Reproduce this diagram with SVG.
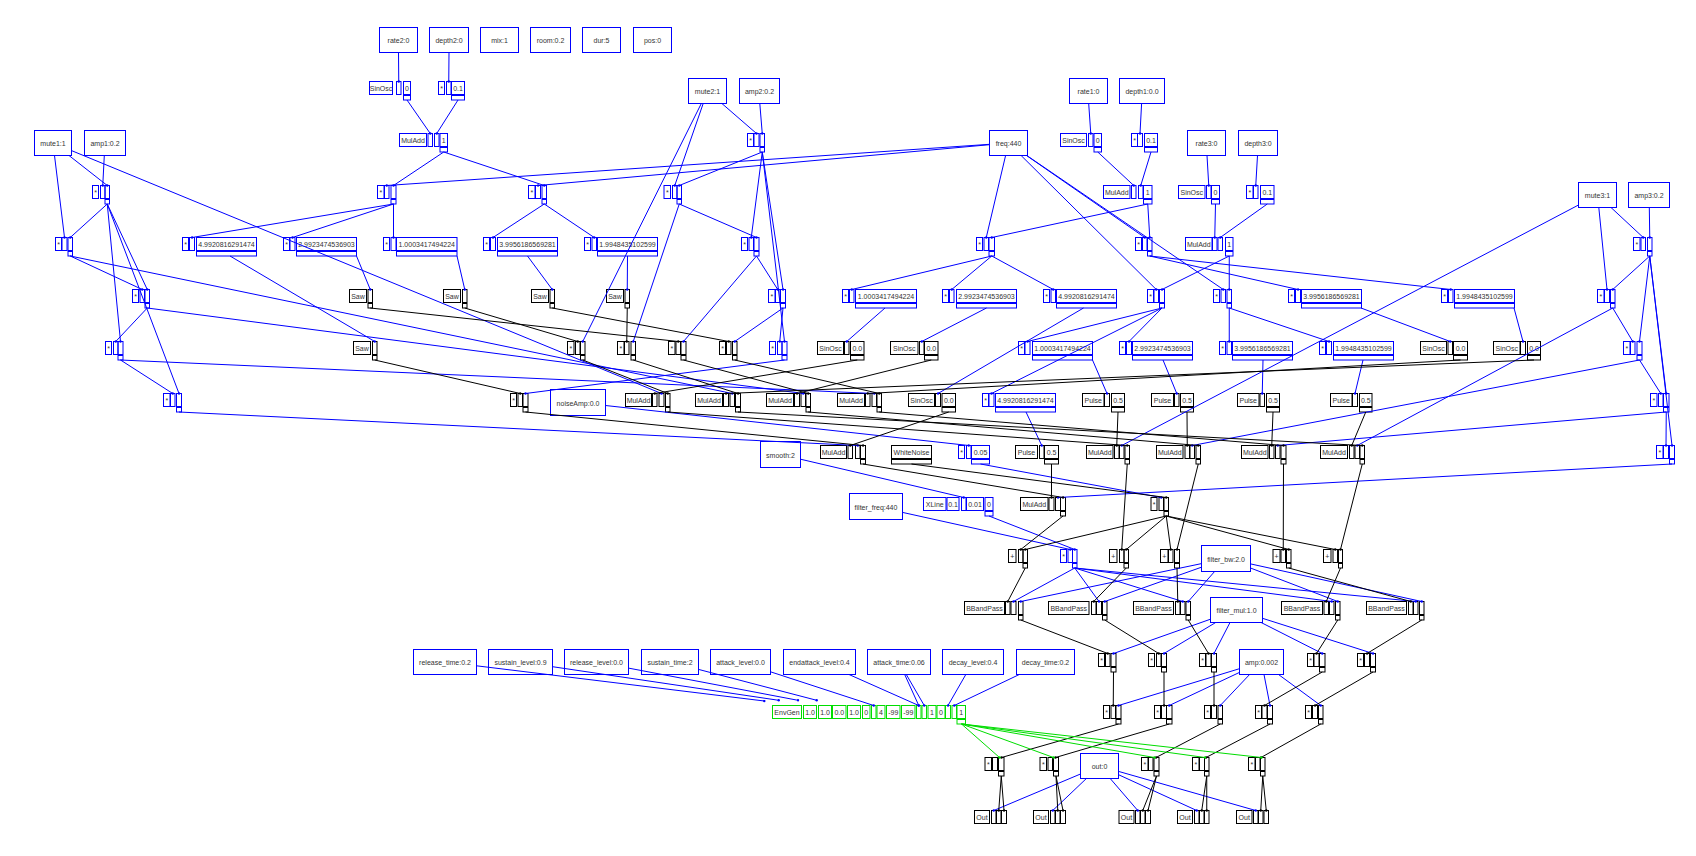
<svg xmlns="http://www.w3.org/2000/svg" width="1696" height="856" viewBox="0 0 1696 856">
<style>
rect{fill:none;stroke-width:1}
.b rect{stroke:#0000ff}
.k rect{stroke:#000}
.g rect{stroke:#00dd00}
text{font-family:"Liberation Sans",Arial,sans-serif;font-size:7px;fill:#333;text-anchor:middle}
#connectors path{fill:none;stroke-width:1}
.eb path{stroke:#0000ff;marker-end:url(#mb)}
.ek path{stroke:#000;marker-end:url(#mk)}
.eg path{stroke:#00dd00;marker-end:url(#mg)}
</style>
<defs>
<marker id="mb" markerWidth="3" markerHeight="3" refX="1.5" refY="1.5" markerUnits="userSpaceOnUse"><circle cx="1.5" cy="1.5" r="1.2" fill="#0000ff"/></marker>
<marker id="mk" markerWidth="3" markerHeight="3" refX="1.5" refY="1.5" markerUnits="userSpaceOnUse"><circle cx="1.5" cy="1.5" r="1.2" fill="#000"/></marker>
<marker id="mg" markerWidth="3" markerHeight="3" refX="1.5" refY="1.5" markerUnits="userSpaceOnUse"><circle cx="1.5" cy="1.5" r="1.2" fill="#00dd00"/></marker>
</defs>
<rect x="0" y="0" width="1696" height="856" style="fill:#fff;stroke:none"/>

<g id="controls">
<g id="rate2" class="b"><rect x="379.5" y="27.5" width="38" height="25"/><text x="398.5" y="43">rate2:0</text></g>
<g id="depth2" class="b"><rect x="429.5" y="27.5" width="39" height="25"/><text x="449" y="43">depth2:0</text></g>
<g id="mix" class="b"><rect x="480.5" y="27.5" width="38" height="25"/><text x="499.5" y="43">mix:1</text></g>
<g id="room" class="b"><rect x="530.5" y="27.5" width="40" height="25"/><text x="550.5" y="43">room:0.2</text></g>
<g id="dur" class="b"><rect x="582.5" y="27.5" width="38" height="25"/><text x="601.5" y="43">dur:5</text></g>
<g id="pos" class="b"><rect x="633.5" y="27.5" width="38" height="25"/><text x="652.5" y="43">pos:0</text></g>
<g id="mute2" class="b"><rect x="688.5" y="78.5" width="38" height="25"/><text x="707.5" y="94">mute2:1</text></g>
<g id="amp2" class="b"><rect x="739.5" y="78.5" width="40" height="25"/><text x="759.5" y="94">amp2:0.2</text></g>
<g id="rate1" class="b"><rect x="1069.5" y="78.5" width="38" height="25"/><text x="1088.5" y="94">rate1:0</text></g>
<g id="depth1" class="b"><rect x="1119.5" y="78.5" width="45" height="25"/><text x="1142" y="94">depth1:0.0</text></g>
<g id="mute1" class="b"><rect x="34.5" y="130.5" width="37" height="25"/><text x="53" y="146">mute1:1</text></g>
<g id="amp1" class="b"><rect x="84.5" y="130.5" width="41" height="25"/><text x="105" y="146">amp1:0.2</text></g>
<g id="freq" class="b"><rect x="989.5" y="130.5" width="38" height="25"/><text x="1008.5" y="146">freq:440</text></g>
<g id="rate3" class="b"><rect x="1187.5" y="130.5" width="38" height="25"/><text x="1206.5" y="146">rate3:0</text></g>
<g id="depth3" class="b"><rect x="1238.5" y="130.5" width="39" height="25"/><text x="1258" y="146">depth3:0</text></g>
<g id="mute3" class="b"><rect x="1578.5" y="182.5" width="38" height="25"/><text x="1597.5" y="198">mute3:1</text></g>
<g id="amp3" class="b"><rect x="1628.5" y="182.5" width="41" height="25"/><text x="1649" y="198">amp3:0.2</text></g>
<g id="noiseAmp" class="b"><rect x="550.5" y="389.5" width="55" height="26"/><text x="578" y="405.5">noiseAmp:0.0</text></g>
<g id="smooth" class="b"><rect x="760.5" y="441.5" width="40" height="26"/><text x="780.5" y="457.5">smooth:2</text></g>
<g id="filter_freq" class="b"><rect x="849.5" y="493.5" width="53" height="26"/><text x="876" y="509.5">filter_freq:440</text></g>
<g id="filter_bw" class="b"><rect x="1201.5" y="545.5" width="49" height="26"/><text x="1226" y="561.5">filter_bw:2.0</text></g>
<g id="filter_mul" class="b"><rect x="1210.5" y="597.5" width="52" height="25"/><text x="1236.5" y="613">filter_mul:1.0</text></g>
<g id="amp" class="b"><rect x="1239.5" y="649.5" width="44" height="25"/><text x="1261.5" y="665">amp:0.002</text></g>
<g id="release_time" class="b"><rect x="413.5" y="649.5" width="63" height="25"/><text x="445" y="665">release_time:0.2</text></g>
<g id="sustain_level" class="b"><rect x="488.5" y="649.5" width="64" height="25"/><text x="520.5" y="665">sustain_level:0.9</text></g>
<g id="release_level" class="b"><rect x="564.5" y="649.5" width="64" height="25"/><text x="596.5" y="665">release_level:0.0</text></g>
<g id="sustain_time" class="b"><rect x="641.5" y="649.5" width="57" height="25"/><text x="670" y="665">sustain_time:2</text></g>
<g id="attack_level" class="b"><rect x="710.5" y="649.5" width="60" height="25"/><text x="740.5" y="665">attack_level:0.0</text></g>
<g id="endattack_level" class="b"><rect x="783.5" y="649.5" width="72" height="25"/><text x="819.5" y="665">endattack_level:0.4</text></g>
<g id="attack_time" class="b"><rect x="867.5" y="649.5" width="63" height="25"/><text x="899" y="665">attack_time:0.06</text></g>
<g id="decay_level" class="b"><rect x="942.5" y="649.5" width="61" height="25"/><text x="973" y="665">decay_level:0.4</text></g>
<g id="decay_time" class="b"><rect x="1016.5" y="649.5" width="58" height="25"/><text x="1045.5" y="665">decay_time:0.2</text></g>
<g id="out" class="b"><rect x="1080.5" y="753.5" width="38" height="25"/><text x="1099.5" y="769">out:0</text></g>
</g>

<g id="ugens">
<!-- row 1 -->
<g id="sinA" class="b"><rect x="369.5" y="81.5" width="23" height="13"/><text x="381" y="90.5">SinOsc</text><rect x="396.5" y="81.5" width="4.5" height="13"/><rect x="403.5" y="81.5" width="7" height="13"/><text x="407" y="90.5">0</text><rect x="403.5" y="95.5" width="7" height="4.5"/></g>
<g id="mulA" class="b"><rect x="438.5" y="81.5" width="6" height="13"/><text x="441.5" y="90.5">*</text><rect x="446.5" y="81.5" width="4.5" height="13"/><rect x="451.5" y="81.5" width="13" height="13"/><text x="458" y="90.5">0.1</text><rect x="451.5" y="95.5" width="13" height="4.5"/></g>
<!-- row 2 -->
<g id="maA" class="b"><rect x="399.5" y="133.5" width="27" height="13"/><text x="413" y="142.5">MulAdd</text><rect x="428" y="133.5" width="4.5" height="13"/><rect x="434.5" y="133.5" width="4.5" height="13"/><rect x="440" y="133.5" width="7.5" height="13"/><text x="443.75" y="142.5">1</text><rect x="440" y="147.5" width="7.5" height="4.5"/></g>
<g id="mulB" class="b"><rect x="747.5" y="133.5" width="6" height="13"/><text x="750.5" y="142.5">*</text><rect x="754" y="133.5" width="5" height="13"/><rect x="760" y="133.5" width="4.5" height="13"/><rect x="760" y="147.5" width="4.5" height="4.5"/></g>
<g id="sinB" class="b"><rect x="1060.5" y="133.5" width="26" height="13"/><text x="1073.5" y="142.5">SinOsc</text><rect x="1088.5" y="133.5" width="4.5" height="13"/><rect x="1094" y="133.5" width="7.5" height="13"/><text x="1097.75" y="142.5">0</text><rect x="1094" y="147.5" width="7.5" height="4.5"/></g>
<g id="mulC" class="b"><rect x="1131.5" y="133.5" width="6" height="13"/><text x="1134.5" y="142.5">*</text><rect x="1137.5" y="133.5" width="5" height="13"/><rect x="1144.5" y="133.5" width="13" height="13"/><text x="1151" y="142.5">0.1</text><rect x="1144.5" y="147.5" width="13" height="4.5"/></g>
<!-- row 3 -->
<g id="mul92" class="b"><rect x="92.5" y="185.5" width="6" height="13"/><text x="95.5" y="194.5">*</text><rect x="100.5" y="185.5" width="4.5" height="13"/><rect x="105" y="185.5" width="4.5" height="13"/><rect x="105" y="199.5" width="4.5" height="4.5"/></g>
<g id="mul377" class="b"><rect x="377.5" y="185.5" width="6.5" height="13"/><text x="380.75" y="194.5">*</text><rect x="384.5" y="185.5" width="4.5" height="13"/><rect x="391" y="185.5" width="5" height="13"/><rect x="391" y="199.5" width="5" height="4.5"/></g>
<g id="mul528" class="b"><rect x="528.5" y="185.5" width="6.5" height="13"/><text x="531.75" y="194.5">*</text><rect x="535.5" y="185.5" width="5" height="13"/><rect x="542" y="185.5" width="4.5" height="13"/><rect x="542" y="199.5" width="4.5" height="4.5"/></g>
<g id="mul664" class="b"><rect x="664" y="185.5" width="6.5" height="13"/><text x="667.25" y="194.5">*</text><rect x="672.5" y="185.5" width="4.5" height="13"/><rect x="677" y="185.5" width="4.5" height="13"/><rect x="677" y="199.5" width="4.5" height="4.5"/></g>
<g id="maB" class="b"><rect x="1103.5" y="185.5" width="26.5" height="13"/><text x="1116.75" y="194.5">MulAdd</text><rect x="1131.5" y="185.5" width="4.5" height="13"/><rect x="1138.5" y="185.5" width="4.5" height="13"/><rect x="1143.5" y="185.5" width="8.5" height="13"/><text x="1147.75" y="194.5">1</text><rect x="1143.5" y="199.5" width="8.5" height="4.5"/></g>
<g id="sinC" class="b"><rect x="1178.5" y="185.5" width="26.5" height="13"/><text x="1191.75" y="194.5">SinOsc</text><rect x="1206.5" y="185.5" width="4.5" height="13"/><rect x="1211.5" y="185.5" width="8" height="13"/><text x="1215.5" y="194.5">0</text><rect x="1211.5" y="199.5" width="8" height="4.5"/></g>
<g id="mulD" class="b"><rect x="1246.5" y="185.5" width="6.5" height="13"/><text x="1249.75" y="194.5">*</text><rect x="1253.5" y="185.5" width="4.5" height="13"/><rect x="1260.5" y="185.5" width="13.5" height="13"/><text x="1267.25" y="194.5">0.1</text><rect x="1260.5" y="199.5" width="13.5" height="4.5"/></g>
<!-- row 4 -->
<g id="mul55" class="b"><rect x="55.5" y="237.5" width="6" height="13"/><text x="58.5" y="246.5">*</text><rect x="62" y="237.5" width="5" height="13"/><rect x="68" y="237.5" width="4.5" height="13"/><rect x="68" y="251.5" width="4.5" height="4.5"/></g>
<g id="k4992a" class="b"><rect x="182.5" y="237.5" width="6" height="13"/><text x="185.5" y="246.5">*</text><rect x="189.5" y="237.5" width="5" height="13"/><rect x="196.5" y="237.5" width="60" height="13"/><text x="226.5" y="246.5">4.9920816291474</text><rect x="196.5" y="251.5" width="60" height="4.5"/></g>
<g id="k2992a" class="b"><rect x="283.5" y="237.5" width="6" height="13"/><text x="286.5" y="246.5">*</text><rect x="290" y="237.5" width="5" height="13"/><rect x="296.5" y="237.5" width="60" height="13"/><text x="326.5" y="246.5">2.9923474536903</text><rect x="296.5" y="251.5" width="60" height="4.5"/></g>
<g id="k1000a" class="b"><rect x="383.5" y="237.5" width="6" height="13"/><text x="386.5" y="246.5">*</text><rect x="391" y="237.5" width="5" height="13"/><rect x="396.5" y="237.5" width="60.5" height="13"/><text x="426.75" y="246.5">1.0003417494224</text><rect x="396.5" y="251.5" width="60.5" height="4.5"/></g>
<g id="k3995a" class="b"><rect x="483.5" y="237.5" width="6" height="13"/><text x="486.5" y="246.5">*</text><rect x="490.5" y="237.5" width="5" height="13"/><rect x="497.5" y="237.5" width="60" height="13"/><text x="527.5" y="246.5">3.9956186569281</text><rect x="497.5" y="251.5" width="60" height="4.5"/></g>
<g id="k1994a" class="b"><rect x="584.5" y="237.5" width="6" height="13"/><text x="587.5" y="246.5">*</text><rect x="592" y="237.5" width="4.5" height="13"/><rect x="597.5" y="237.5" width="60" height="13"/><text x="627.5" y="246.5">1.9948435102599</text><rect x="597.5" y="251.5" width="60" height="4.5"/></g>
<g id="mul741" class="b"><rect x="741.5" y="237.5" width="6" height="13"/><text x="744.5" y="246.5">*</text><rect x="749" y="237.5" width="4.5" height="13"/><rect x="754" y="237.5" width="5" height="13"/><rect x="754" y="251.5" width="5" height="4.5"/></g>
<g id="mul976" class="b"><rect x="976.5" y="237.5" width="6" height="13"/><text x="979.5" y="246.5">*</text><rect x="984" y="237.5" width="4.5" height="13"/><rect x="989" y="237.5" width="5.5" height="13"/><rect x="989" y="251.5" width="5.5" height="4.5"/></g>
<g id="mul1135" class="b"><rect x="1135.5" y="237.5" width="6" height="13"/><text x="1138.5" y="246.5">*</text><rect x="1142.5" y="237.5" width="4.5" height="13"/><rect x="1147.5" y="237.5" width="4.5" height="13"/><rect x="1147.5" y="251.5" width="4.5" height="4.5"/></g>
<g id="maC" class="b"><rect x="1185.5" y="237.5" width="26.5" height="13"/><text x="1198.75" y="246.5">MulAdd</text><rect x="1212.5" y="237.5" width="4.5" height="13"/><rect x="1218" y="237.5" width="4.5" height="13"/><rect x="1225.5" y="237.5" width="7.5" height="13"/><text x="1229.25" y="246.5">1</text><rect x="1225.5" y="251.5" width="7.5" height="4.5"/></g>
<g id="mul1633" class="b"><rect x="1633.5" y="237.5" width="6.5" height="13"/><text x="1636.75" y="246.5">*</text><rect x="1641" y="237.5" width="4.5" height="13"/><rect x="1647.5" y="237.5" width="4.5" height="13"/><rect x="1647.5" y="251.5" width="4.5" height="4.5"/></g>
<!-- row 5 -->
<g id="mul132" class="b"><rect x="132.5" y="289.5" width="6" height="13"/><text x="135.5" y="298.5">*</text><rect x="140" y="289.5" width="4.5" height="13"/><rect x="145" y="289.5" width="4.5" height="13"/><rect x="145" y="303.5" width="4.5" height="4.5"/></g>
<g id="saw1" class="k"><rect x="349.5" y="289.5" width="17" height="13"/><text x="358" y="298.5">Saw</text><rect x="368" y="289.5" width="4.5" height="13"/><rect x="368" y="303.5" width="4.5" height="4.5"/></g>
<g id="saw2" class="k"><rect x="443.5" y="289.5" width="17" height="13"/><text x="452" y="298.5">Saw</text><rect x="462.5" y="289.5" width="4.5" height="13"/><rect x="462.5" y="303.5" width="4.5" height="4.5"/></g>
<g id="saw3" class="k"><rect x="531.5" y="289.5" width="17" height="13"/><text x="540" y="298.5">Saw</text><rect x="550" y="289.5" width="4.5" height="13"/><rect x="550" y="303.5" width="4.5" height="4.5"/></g>
<g id="saw4" class="k"><rect x="606.5" y="289.5" width="17" height="13"/><text x="615" y="298.5">Saw</text><rect x="625" y="289.5" width="4.5" height="13"/><rect x="625" y="303.5" width="4.5" height="4.5"/></g>
<g id="mul768" class="b"><rect x="768.5" y="289.5" width="6.5" height="13"/><text x="771.75" y="298.5">*</text><rect x="775.5" y="289.5" width="4.5" height="13"/><rect x="780.5" y="289.5" width="5" height="13"/><rect x="780.5" y="303.5" width="5" height="4.5"/></g>
<g id="k1000b" class="b"><rect x="842.5" y="289.5" width="6" height="13"/><text x="845.5" y="298.5">*</text><rect x="849.5" y="289.5" width="4.5" height="13"/><rect x="855.5" y="289.5" width="61" height="13"/><text x="886" y="298.5">1.0003417494224</text><rect x="855.5" y="303.5" width="61" height="4.5"/></g>
<g id="k2992b" class="b"><rect x="942.5" y="289.5" width="6" height="13"/><text x="945.5" y="298.5">*</text><rect x="949.5" y="289.5" width="4.5" height="13"/><rect x="956.5" y="289.5" width="60" height="13"/><text x="986.5" y="298.5">2.9923474536903</text><rect x="956.5" y="303.5" width="60" height="4.5"/></g>
<g id="k4992b" class="b"><rect x="1043.5" y="289.5" width="6" height="13"/><text x="1046.5" y="298.5">*</text><rect x="1051" y="289.5" width="4.5" height="13"/><rect x="1056.5" y="289.5" width="60" height="13"/><text x="1086.5" y="298.5">4.9920816291474</text><rect x="1056.5" y="303.5" width="60" height="4.5"/></g>
<g id="mul1147" class="b"><rect x="1147.5" y="289.5" width="6" height="13"/><text x="1150.5" y="298.5">*</text><rect x="1154" y="289.5" width="4.5" height="13"/><rect x="1159.5" y="289.5" width="5" height="13"/><rect x="1159.5" y="303.5" width="5" height="4.5"/></g>
<g id="mul1213" class="b"><rect x="1213.5" y="289.5" width="6" height="13"/><text x="1216.5" y="298.5">*</text><rect x="1221" y="289.5" width="4.5" height="13"/><rect x="1227" y="289.5" width="4.5" height="13"/><rect x="1227" y="303.5" width="4.5" height="4.5"/></g>
<g id="k3995b" class="b"><rect x="1288.5" y="289.5" width="6" height="13"/><text x="1291.5" y="298.5">*</text><rect x="1295.5" y="289.5" width="5" height="13"/><rect x="1301.5" y="289.5" width="60" height="13"/><text x="1331.5" y="298.5">3.9956186569281</text><rect x="1301.5" y="303.5" width="60" height="4.5"/></g>
<g id="k1994b" class="b"><rect x="1441.5" y="289.5" width="6" height="13"/><text x="1444.5" y="298.5">*</text><rect x="1448.5" y="289.5" width="4.5" height="13"/><rect x="1454.5" y="289.5" width="60" height="13"/><text x="1484.5" y="298.5">1.9948435102599</text><rect x="1454.5" y="303.5" width="60" height="4.5"/></g>
<g id="mul1597" class="b"><rect x="1597.5" y="289.5" width="6.5" height="13"/><text x="1600.75" y="298.5">*</text><rect x="1604.5" y="289.5" width="5" height="13"/><rect x="1610.5" y="289.5" width="4.5" height="13"/><rect x="1610.5" y="303.5" width="4.5" height="4.5"/></g>
<!-- row 6 -->
<g id="mul105" class="b"><rect x="105.5" y="341.5" width="6" height="13"/><text x="108.5" y="350.5">*</text><rect x="113.5" y="341.5" width="4.5" height="13"/><rect x="118" y="341.5" width="5" height="13"/><rect x="118" y="355.5" width="5" height="4.5"/></g>
<g id="saw5" class="k"><rect x="353.5" y="341.5" width="17" height="13"/><text x="362" y="350.5">Saw</text><rect x="372.5" y="341.5" width="4.5" height="13"/><rect x="372.5" y="355.5" width="4.5" height="4.5"/></g>
<g id="mul567" class="k"><rect x="567.5" y="341.5" width="6.5" height="13"/><text x="570.75" y="350.5">*</text><rect x="575.5" y="341.5" width="4.5" height="13"/><rect x="580.5" y="341.5" width="4.5" height="13"/><rect x="580.5" y="355.5" width="4.5" height="4.5"/></g>
<g id="mul617" class="k"><rect x="617.5" y="341.5" width="6.5" height="13"/><text x="620.75" y="350.5">*</text><rect x="624.5" y="341.5" width="4.5" height="13"/><rect x="631" y="341.5" width="4.5" height="13"/><rect x="631" y="355.5" width="4.5" height="4.5"/></g>
<g id="mul668" class="k"><rect x="668.5" y="341.5" width="6.5" height="13"/><text x="671.75" y="350.5">*</text><rect x="676" y="341.5" width="4.5" height="13"/><rect x="681" y="341.5" width="5" height="13"/><rect x="681" y="355.5" width="5" height="4.5"/></g>
<g id="mul719" class="k"><rect x="719.5" y="341.5" width="6" height="13"/><text x="722.5" y="350.5">*</text><rect x="726.5" y="341.5" width="4.5" height="13"/><rect x="732.5" y="341.5" width="4.5" height="13"/><rect x="732.5" y="355.5" width="4.5" height="4.5"/></g>
<g id="mul769" class="b"><rect x="769.5" y="341.5" width="6" height="13"/><text x="772.5" y="350.5">*</text><rect x="777.5" y="341.5" width="4.5" height="13"/><rect x="782" y="341.5" width="5" height="13"/><rect x="782" y="355.5" width="5" height="4.5"/></g>
<g id="sin1" class="k"><rect x="817.5" y="341.5" width="26" height="13"/><text x="830.5" y="350.5">SinOsc</text><rect x="844.5" y="341.5" width="4.5" height="13"/><rect x="850.5" y="341.5" width="13.5" height="13"/><text x="857.25" y="350.5">0.0</text><rect x="850.5" y="355.5" width="13.5" height="4.5"/></g>
<g id="sin2" class="k"><rect x="890.5" y="341.5" width="27.5" height="13"/><text x="904.25" y="350.5">SinOsc</text><rect x="919.5" y="341.5" width="4.5" height="13"/><rect x="924.5" y="341.5" width="13.5" height="13"/><text x="931.25" y="350.5">0.0</text><rect x="924.5" y="355.5" width="13.5" height="4.5"/></g>
<g id="k1000c" class="b"><rect x="1018.5" y="341.5" width="6" height="13"/><text x="1021.5" y="350.5">*</text><rect x="1025" y="341.5" width="5" height="13"/><rect x="1032.5" y="341.5" width="60" height="13"/><text x="1062.5" y="350.5">1.0003417494224</text><rect x="1032.5" y="355.5" width="60" height="4.5"/></g>
<g id="k2992c" class="b"><rect x="1119.5" y="341.5" width="6" height="13"/><text x="1122.5" y="350.5">*</text><rect x="1126.5" y="341.5" width="5" height="13"/><rect x="1132.5" y="341.5" width="60" height="13"/><text x="1162.5" y="350.5">2.9923474536903</text><rect x="1132.5" y="355.5" width="60" height="4.5"/></g>
<g id="k3995c" class="b"><rect x="1219.5" y="341.5" width="6" height="13"/><text x="1222.5" y="350.5">*</text><rect x="1227" y="341.5" width="4.5" height="13"/><rect x="1232.5" y="341.5" width="60" height="13"/><text x="1262.5" y="350.5">3.9956186569281</text><rect x="1232.5" y="355.5" width="60" height="4.5"/></g>
<g id="k1994c" class="b"><rect x="1319.5" y="341.5" width="6" height="13"/><text x="1322.5" y="350.5">*</text><rect x="1326.5" y="341.5" width="5" height="13"/><rect x="1333.5" y="341.5" width="60" height="13"/><text x="1363.5" y="350.5">1.9948435102599</text><rect x="1333.5" y="355.5" width="60" height="4.5"/></g>
<g id="sin3" class="k"><rect x="1420.5" y="341.5" width="26" height="13"/><text x="1433.5" y="350.5">SinOsc</text><rect x="1448" y="341.5" width="4.5" height="13"/><rect x="1453.5" y="341.5" width="14" height="13"/><text x="1460.5" y="350.5">0.0</text><rect x="1453.5" y="355.5" width="14" height="4.5"/></g>
<g id="sin4" class="k"><rect x="1493.5" y="341.5" width="26.5" height="13"/><text x="1506.75" y="350.5">SinOsc</text><rect x="1520.5" y="341.5" width="5" height="13"/><rect x="1527.5" y="341.5" width="13" height="13"/><text x="1534" y="350.5">0.0</text><rect x="1527.5" y="355.5" width="13" height="4.5"/></g>
<g id="mul1623" class="b"><rect x="1623.5" y="341.5" width="6.5" height="13"/><text x="1626.75" y="350.5">*</text><rect x="1630.5" y="341.5" width="4.5" height="13"/><rect x="1637" y="341.5" width="5" height="13"/><rect x="1637" y="355.5" width="5" height="4.5"/></g>
<!-- row 7 -->
<g id="mul163" class="b"><rect x="163.5" y="393.5" width="6.5" height="13"/><text x="166.75" y="402.5">*</text><rect x="170.5" y="393.5" width="4.5" height="13"/><rect x="176.5" y="393.5" width="5" height="13"/><rect x="176.5" y="407.5" width="5" height="4.5"/></g>
<g id="mul510" class="k"><rect x="510.5" y="393.5" width="6" height="13"/><text x="513.5" y="402.5">*</text><rect x="518" y="393.5" width="4.5" height="13"/><rect x="523" y="393.5" width="5" height="13"/><rect x="523" y="407.5" width="5" height="4.5"/></g>
<g id="ma625" class="k"><rect x="625.5" y="393.5" width="26" height="13"/><text x="638.5" y="402.5">MulAdd</text><rect x="652.5" y="393.5" width="4.5" height="13"/><rect x="659" y="393.5" width="5" height="13"/><rect x="665.5" y="393.5" width="4.5" height="13"/><rect x="665.5" y="407.5" width="4.5" height="4.5"/></g>
<g id="ma696" class="k"><rect x="695.5" y="393.5" width="27" height="13"/><text x="709" y="402.5">MulAdd</text><rect x="723.5" y="393.5" width="5" height="13"/><rect x="730" y="393.5" width="4.5" height="13"/><rect x="735.5" y="393.5" width="5" height="13"/><rect x="735.5" y="407.5" width="5" height="4.5"/></g>
<g id="ma766" class="k"><rect x="766.5" y="393.5" width="27" height="13"/><text x="780" y="402.5">MulAdd</text><rect x="794.5" y="393.5" width="5" height="13"/><rect x="801" y="393.5" width="4.5" height="13"/><rect x="806" y="393.5" width="4.5" height="13"/><rect x="806" y="407.5" width="4.5" height="4.5"/></g>
<g id="ma837" class="k"><rect x="837.5" y="393.5" width="27" height="13"/><text x="851" y="402.5">MulAdd</text><rect x="865.5" y="393.5" width="4.5" height="13"/><rect x="872" y="393.5" width="4.5" height="13"/><rect x="877" y="393.5" width="4.5" height="13"/><rect x="877" y="407.5" width="4.5" height="4.5"/></g>
<g id="sin5" class="k"><rect x="908.5" y="393.5" width="26" height="13"/><text x="921.5" y="402.5">SinOsc</text><rect x="935.5" y="393.5" width="5" height="13"/><rect x="942" y="393.5" width="13.5" height="13"/><text x="948.75" y="402.5">0.0</text><rect x="942" y="407.5" width="13.5" height="4.5"/></g>
<g id="k4992c" class="b"><rect x="982.5" y="393.5" width="6" height="13"/><text x="985.5" y="402.5">*</text><rect x="989" y="393.5" width="5" height="13"/><rect x="995.5" y="393.5" width="60" height="13"/><text x="1025.5" y="402.5">4.9920816291474</text><rect x="995.5" y="407.5" width="60" height="4.5"/></g>
<g id="pulse1" class="k"><rect x="1082.5" y="393.5" width="21.5" height="13"/><text x="1093.25" y="402.5">Pulse</text><rect x="1104.5" y="393.5" width="5" height="13"/><rect x="1111.5" y="393.5" width="13" height="13"/><text x="1118" y="402.5">0.5</text><rect x="1111.5" y="407.5" width="13" height="4.5"/></g>
<g id="pulse2" class="k"><rect x="1151.5" y="393.5" width="22" height="13"/><text x="1162.5" y="402.5">Pulse</text><rect x="1174.5" y="393.5" width="4.5" height="13"/><rect x="1180.5" y="393.5" width="13" height="13"/><text x="1187" y="402.5">0.5</text><rect x="1180.5" y="407.5" width="13" height="4.5"/></g>
<g id="pulse3" class="k"><rect x="1237.5" y="393.5" width="21.5" height="13"/><text x="1248.25" y="402.5">Pulse</text><rect x="1260" y="393.5" width="4.5" height="13"/><rect x="1266.5" y="393.5" width="13" height="13"/><text x="1273" y="402.5">0.5</text><rect x="1266.5" y="407.5" width="13" height="4.5"/></g>
<g id="pulse4" class="k"><rect x="1330.5" y="393.5" width="21.5" height="13"/><text x="1341.25" y="402.5">Pulse</text><rect x="1352.5" y="393.5" width="5" height="13"/><rect x="1359.5" y="393.5" width="12.5" height="13"/><text x="1365.75" y="402.5">0.5</text><rect x="1359.5" y="407.5" width="12.5" height="4.5"/></g>
<g id="mul1650" class="b"><rect x="1650.5" y="393.5" width="6.5" height="13"/><text x="1653.75" y="402.5">*</text><rect x="1658.5" y="393.5" width="4.5" height="13"/><rect x="1663.5" y="393.5" width="5.5" height="13"/><rect x="1663.5" y="407.5" width="5.5" height="4.5"/></g>
<!-- row 8 -->
<g id="ma820" class="k"><rect x="820.5" y="445.5" width="26" height="13"/><text x="833.5" y="454.5">MulAdd</text><rect x="848" y="445.5" width="4.5" height="13"/><rect x="855.5" y="445.5" width="4.5" height="13"/><rect x="860.5" y="445.5" width="5" height="13"/><rect x="860.5" y="459.5" width="5" height="4.5"/></g>
<g id="whitenoise" class="k"><rect x="891.5" y="445.5" width="40" height="13"/><text x="911.5" y="454.5">WhiteNoise</text><rect x="891.5" y="459.5" width="40" height="4.5"/></g>
<g id="mul958" class="b"><rect x="958.5" y="445.5" width="6" height="13"/><text x="961.5" y="454.5">*</text><rect x="966.5" y="445.5" width="4.5" height="13"/><rect x="971.5" y="445.5" width="18" height="13"/><text x="980.5" y="454.5">0.05</text><rect x="971.5" y="459.5" width="18" height="4.5"/></g>
<g id="pulse5" class="k"><rect x="1015.5" y="445.5" width="22" height="13"/><text x="1026.5" y="454.5">Pulse</text><rect x="1039.5" y="445.5" width="4.5" height="13"/><rect x="1044.5" y="445.5" width="14" height="13"/><text x="1051.5" y="454.5">0.5</text><rect x="1044.5" y="459.5" width="14" height="4.5"/></g>
<g id="ma1086" class="k"><rect x="1086.5" y="445.5" width="26.5" height="13"/><text x="1099.75" y="454.5">MulAdd</text><rect x="1114.5" y="445.5" width="4.5" height="13"/><rect x="1119.5" y="445.5" width="4.5" height="13"/><rect x="1125" y="445.5" width="4.5" height="13"/><rect x="1125" y="459.5" width="4.5" height="4.5"/></g>
<g id="ma1156" class="k"><rect x="1156.5" y="445.5" width="26.5" height="13"/><text x="1169.75" y="454.5">MulAdd</text><rect x="1185" y="445.5" width="4.5" height="13"/><rect x="1190" y="445.5" width="4.5" height="13"/><rect x="1196" y="445.5" width="4.5" height="13"/><rect x="1196" y="459.5" width="4.5" height="4.5"/></g>
<g id="ma1241" class="k"><rect x="1241.5" y="445.5" width="26.5" height="13"/><text x="1254.75" y="454.5">MulAdd</text><rect x="1269.5" y="445.5" width="4.5" height="13"/><rect x="1275.5" y="445.5" width="4.5" height="13"/><rect x="1281" y="445.5" width="5" height="13"/><rect x="1281" y="459.5" width="5" height="4.5"/></g>
<g id="ma1320" class="k"><rect x="1320.5" y="445.5" width="27" height="13"/><text x="1334" y="454.5">MulAdd</text><rect x="1349.5" y="445.5" width="4.5" height="13"/><rect x="1355" y="445.5" width="4.5" height="13"/><rect x="1360" y="445.5" width="4.5" height="13"/><rect x="1360" y="459.5" width="4.5" height="4.5"/></g>
<g id="mul1656" class="b"><rect x="1656.5" y="445.5" width="6.5" height="13"/><text x="1659.75" y="454.5">*</text><rect x="1663.5" y="445.5" width="5" height="13"/><rect x="1669.5" y="445.5" width="5" height="13"/><rect x="1669.5" y="459.5" width="5" height="4.5"/></g>
<!-- row 9 -->
<g id="xline" class="b"><rect x="923.5" y="497.5" width="22.5" height="13"/><text x="934.75" y="506.5">XLine</text><rect x="947" y="497.5" width="12" height="13"/><text x="953" y="506.5">0.1</text><rect x="961.5" y="497.5" width="4.5" height="13"/><rect x="966.5" y="497.5" width="17" height="13"/><text x="975" y="506.5">0.01</text><rect x="985" y="497.5" width="8" height="13"/><text x="989" y="506.5">0</text><rect x="985" y="511.5" width="8" height="4.5"/></g>
<g id="ma1020" class="k"><rect x="1020.5" y="497.5" width="27.5" height="13"/><text x="1034.25" y="506.5">MulAdd</text><rect x="1049" y="497.5" width="5" height="13"/><rect x="1055.5" y="497.5" width="5" height="13"/><rect x="1060.5" y="497.5" width="5" height="13"/><rect x="1060.5" y="511.5" width="5" height="4.5"/></g>
<g id="mul1151" class="k"><rect x="1151" y="497.5" width="6" height="13"/><text x="1154" y="506.5">*</text><rect x="1159" y="497.5" width="4.5" height="13"/><rect x="1164" y="497.5" width="4.5" height="13"/><rect x="1164" y="511.5" width="4.5" height="4.5"/></g>
<!-- row 10 -->
<g id="plus1" class="k"><rect x="1008.5" y="549.5" width="7.5" height="13"/><text x="1012.25" y="558.5">+</text><rect x="1018.5" y="549.5" width="4.5" height="13"/><rect x="1023" y="549.5" width="4.5" height="13"/><rect x="1023" y="563.5" width="4.5" height="4.5"/></g>
<g id="mulE" class="b"><rect x="1060.5" y="549.5" width="6" height="13"/><text x="1063.5" y="558.5">*</text><rect x="1068" y="549.5" width="4.5" height="13"/><rect x="1072.5" y="549.5" width="4.5" height="13"/><rect x="1072.5" y="563.5" width="4.5" height="4.5"/></g>
<g id="plus2" class="k"><rect x="1109.5" y="549.5" width="7.5" height="13"/><text x="1113.25" y="558.5">+</text><rect x="1119.5" y="549.5" width="4.5" height="13"/><rect x="1124" y="549.5" width="4.5" height="13"/><rect x="1124" y="563.5" width="4.5" height="4.5"/></g>
<g id="plus3" class="k"><rect x="1160.5" y="549.5" width="7.5" height="13"/><text x="1164.25" y="558.5">+</text><rect x="1168.5" y="549.5" width="4.5" height="13"/><rect x="1174.5" y="549.5" width="5" height="13"/><rect x="1174.5" y="563.5" width="5" height="4.5"/></g>
<g id="plus4" class="k"><rect x="1273" y="549.5" width="7" height="13"/><text x="1276.5" y="558.5">+</text><rect x="1281" y="549.5" width="4.5" height="13"/><rect x="1286.5" y="549.5" width="4.5" height="13"/><rect x="1286.5" y="563.5" width="4.5" height="4.5"/></g>
<g id="plus5" class="k"><rect x="1323.5" y="549.5" width="7.5" height="13"/><text x="1327.25" y="558.5">+</text><rect x="1333" y="549.5" width="4.5" height="13"/><rect x="1338.5" y="549.5" width="4" height="13"/><rect x="1338.5" y="563.5" width="4" height="4.5"/></g>
<!-- row 11 -->
<g id="bbp1" class="k"><rect x="964.5" y="601.5" width="40" height="13"/><text x="984.5" y="610.5">BBandPass</text><rect x="1005.5" y="601.5" width="4.5" height="13"/><rect x="1011" y="601.5" width="5" height="13"/><rect x="1018.5" y="601.5" width="4.5" height="13"/><rect x="1018.5" y="615.5" width="4.5" height="4.5"/></g>
<g id="bbp2" class="k"><rect x="1048.5" y="601.5" width="40.5" height="13"/><text x="1068.75" y="610.5">BBandPass</text><rect x="1091.5" y="601.5" width="4.5" height="13"/><rect x="1096.5" y="601.5" width="5" height="13"/><rect x="1102.5" y="601.5" width="4.5" height="13"/><rect x="1102.5" y="615.5" width="4.5" height="4.5"/></g>
<g id="bbp3" class="k"><rect x="1133.5" y="601.5" width="40" height="13"/><text x="1153.5" y="610.5">BBandPass</text><rect x="1175.5" y="601.5" width="4.5" height="13"/><rect x="1180.5" y="601.5" width="4.5" height="13"/><rect x="1186" y="601.5" width="4.5" height="13"/><rect x="1186" y="615.5" width="4.5" height="4.5"/></g>
<g id="bbp4" class="k"><rect x="1281.5" y="601.5" width="41" height="13"/><text x="1302" y="610.5">BBandPass</text><rect x="1324" y="601.5" width="4.5" height="13"/><rect x="1329.5" y="601.5" width="4.5" height="13"/><rect x="1335.5" y="601.5" width="4.5" height="13"/><rect x="1335.5" y="615.5" width="4.5" height="4.5"/></g>
<g id="bbp5" class="k"><rect x="1366.5" y="601.5" width="40" height="13"/><text x="1386.5" y="610.5">BBandPass</text><rect x="1408.5" y="601.5" width="4.5" height="13"/><rect x="1413.5" y="601.5" width="4.5" height="13"/><rect x="1419.5" y="601.5" width="4.5" height="13"/><rect x="1419.5" y="615.5" width="4.5" height="4.5"/></g>
<!-- row 12 -->
<g id="m12a" class="k"><rect x="1098.5" y="653.5" width="6" height="13"/><text x="1101.5" y="662.5">*</text><rect x="1105.5" y="653.5" width="4.5" height="13"/><rect x="1111" y="653.5" width="5" height="13"/><rect x="1111" y="667.5" width="5" height="4.5"/></g>
<g id="m12b" class="k"><rect x="1148.5" y="653.5" width="6" height="13"/><text x="1151.5" y="662.5">*</text><rect x="1156.5" y="653.5" width="4.5" height="13"/><rect x="1161.5" y="653.5" width="5" height="13"/><rect x="1161.5" y="667.5" width="5" height="4.5"/></g>
<g id="m12c" class="k"><rect x="1199.5" y="653.5" width="6" height="13"/><text x="1202.5" y="662.5">*</text><rect x="1206" y="653.5" width="5" height="13"/><rect x="1211.5" y="653.5" width="5" height="13"/><rect x="1211.5" y="667.5" width="5" height="4.5"/></g>
<g id="m12d" class="k"><rect x="1307.5" y="653.5" width="6" height="13"/><text x="1310.5" y="662.5">*</text><rect x="1314" y="653.5" width="5" height="13"/><rect x="1319.5" y="653.5" width="5.5" height="13"/><rect x="1319.5" y="667.5" width="5.5" height="4.5"/></g>
<g id="m12e" class="k"><rect x="1357.5" y="653.5" width="6" height="13"/><text x="1360.5" y="662.5">*</text><rect x="1364.5" y="653.5" width="5" height="13"/><rect x="1370.5" y="653.5" width="5" height="13"/><rect x="1370.5" y="667.5" width="5" height="4.5"/></g>
<!-- row 13 -->
<g id="envgen" class="g"><rect x="772.5" y="705.5" width="29" height="13"/><text x="787" y="714.5">EnvGen</text><rect x="803.5" y="705.5" width="13" height="13"/><text x="810" y="714.5">1.0</text><rect x="818.5" y="705.5" width="13" height="13"/><text x="825" y="714.5">1.0</text><rect x="832.5" y="705.5" width="13.5" height="13"/><text x="839.25" y="714.5">0.0</text><rect x="847.5" y="705.5" width="13" height="13"/><text x="854" y="714.5">1.0</text><rect x="862.5" y="705.5" width="7.5" height="13"/><text x="866.25" y="714.5">0</text><rect x="871.5" y="705.5" width="4.5" height="13"/><rect x="877" y="705.5" width="8" height="13"/><text x="881" y="714.5">4</text><rect x="886.5" y="705.5" width="13.5" height="13"/><text x="893.25" y="714.5">-99</text><rect x="901.5" y="705.5" width="13.5" height="13"/><text x="908.25" y="714.5">-99</text><rect x="916.5" y="705.5" width="4.5" height="13"/><rect x="922" y="705.5" width="4.5" height="13"/><rect x="928" y="705.5" width="8" height="13"/><text x="932" y="714.5">1</text><rect x="937" y="705.5" width="8" height="13"/><text x="941" y="714.5">0</text><rect x="945.5" y="705.5" width="5" height="13"/><rect x="952" y="705.5" width="4.5" height="13"/><rect x="957" y="705.5" width="8.5" height="13"/><text x="961.25" y="714.5">1</text><rect x="957" y="719.5" width="8.5" height="4.5"/></g>
<g id="m13a" class="k"><rect x="1103.5" y="705.5" width="6" height="13"/><text x="1106.5" y="714.5">*</text><rect x="1111" y="705.5" width="4.5" height="13"/><rect x="1116" y="705.5" width="5" height="13"/><rect x="1116" y="719.5" width="5" height="4.5"/></g>
<g id="m13b" class="k"><rect x="1154.5" y="705.5" width="6" height="13"/><text x="1157.5" y="714.5">*</text><rect x="1161.5" y="705.5" width="5" height="13"/><rect x="1166.5" y="705.5" width="5.5" height="13"/><rect x="1166.5" y="719.5" width="5.5" height="4.5"/></g>
<g id="m13c" class="k"><rect x="1204.5" y="705.5" width="6" height="13"/><text x="1207.5" y="714.5">*</text><rect x="1211.5" y="705.5" width="5" height="13"/><rect x="1218" y="705.5" width="4.5" height="13"/><rect x="1218" y="719.5" width="4.5" height="4.5"/></g>
<g id="m13d" class="k"><rect x="1255.5" y="705.5" width="6" height="13"/><text x="1258.5" y="714.5">*</text><rect x="1262" y="705.5" width="5" height="13"/><rect x="1267.5" y="705.5" width="5" height="13"/><rect x="1267.5" y="719.5" width="5" height="4.5"/></g>
<g id="m13e" class="k"><rect x="1305.5" y="705.5" width="6" height="13"/><text x="1308.5" y="714.5">*</text><rect x="1312.5" y="705.5" width="5" height="13"/><rect x="1318.5" y="705.5" width="4.5" height="13"/><rect x="1318.5" y="719.5" width="4.5" height="4.5"/></g>
<!-- row 14 -->
<g id="m14a" class="k"><rect x="985" y="757.5" width="6.5" height="13"/><text x="988.25" y="766.5">*</text><rect x="992.5" y="757.5" width="5" height="13"/><rect x="998.5" y="757.5" width="5.5" height="13"/><rect x="998.5" y="771.5" width="5.5" height="4.5"/></g>
<g id="m14b" class="k"><rect x="1040" y="757.5" width="6.5" height="13"/><text x="1043.25" y="766.5">*</text><rect x="1048" y="757.5" width="4.5" height="13"/><rect x="1053.5" y="757.5" width="5" height="13"/><rect x="1053.5" y="771.5" width="5" height="4.5"/></g>
<g id="m14c" class="k"><rect x="1141.5" y="757.5" width="6.5" height="13"/><text x="1144.75" y="766.5">*</text><rect x="1148.5" y="757.5" width="4.5" height="13"/><rect x="1154" y="757.5" width="5" height="13"/><rect x="1154" y="771.5" width="5" height="4.5"/></g>
<g id="m14d" class="k"><rect x="1192.5" y="757.5" width="6.5" height="13"/><text x="1195.75" y="766.5">*</text><rect x="1199.5" y="757.5" width="5" height="13"/><rect x="1204.5" y="757.5" width="4.5" height="13"/><rect x="1204.5" y="771.5" width="4.5" height="4.5"/></g>
<g id="m14e" class="k"><rect x="1248.5" y="757.5" width="6.5" height="13"/><text x="1251.75" y="766.5">*</text><rect x="1255.5" y="757.5" width="4.5" height="13"/><rect x="1260.5" y="757.5" width="4.5" height="13"/><rect x="1260.5" y="771.5" width="4.5" height="4.5"/></g>
<!-- row 15 -->
<g id="out1" class="k"><rect x="974.5" y="810.5" width="15" height="13"/><text x="982" y="819.5">Out</text><rect x="991.5" y="810.5" width="4.5" height="13"/><rect x="996.5" y="810.5" width="4.5" height="13"/><rect x="1001.5" y="810.5" width="5" height="13"/></g>
<g id="out2" class="k"><rect x="1033.5" y="810.5" width="15" height="13"/><text x="1041" y="819.5">Out</text><rect x="1050.5" y="810.5" width="4.5" height="13"/><rect x="1055.5" y="810.5" width="4.5" height="13"/><rect x="1060.5" y="810.5" width="5" height="13"/></g>
<g id="out3" class="k"><rect x="1119" y="810.5" width="15" height="13"/><text x="1126.5" y="819.5">Out</text><rect x="1135.5" y="810.5" width="4.5" height="13"/><rect x="1140.5" y="810.5" width="4.5" height="13"/><rect x="1145.5" y="810.5" width="5" height="13"/></g>
<g id="out4" class="k"><rect x="1177.5" y="810.5" width="15" height="13"/><text x="1185" y="819.5">Out</text><rect x="1194.5" y="810.5" width="4.5" height="13"/><rect x="1199.5" y="810.5" width="4.5" height="13"/><rect x="1204.5" y="810.5" width="4.5" height="13"/></g>
<g id="out5" class="k"><rect x="1236.5" y="810.5" width="15.5" height="13"/><text x="1244.25" y="819.5">Out</text><rect x="1253.5" y="810.5" width="4.5" height="13"/><rect x="1258.5" y="810.5" width="4.5" height="13"/><rect x="1264" y="810.5" width="4.5" height="13"/></g>
</g>

<g id="connectors">
<g class="eb">
<path d="M398.5 52.5L398.75 81.5"/><path d="M449 52.5L448.75 81.5"/><path d="M407 100L430.25 133.5"/><path d="M458 100L436.75 133.5"/>
<path d="M443.75 152L393.5 185.5"/><path d="M443.75 152L544.25 185.5"/><path d="M989.5 144.3L386.75 185.5"/><path d="M989.5 144.7L538 185.5"/>
<path d="M721.9 103.5L756.5 133.5"/><path d="M759.8 103.5L762.25 133.5"/><path d="M703.2 103.5L674.75 185.5"/><path d="M701.3 103.5L582.75 341.5"/>
<path d="M762.25 152L679.25 185.5"/><path d="M762.25 152L751.25 237.5"/><path d="M762.25 152L783 289.5"/><path d="M762.25 152L784.5 341.5"/>
<path d="M679.25 204L756.5 237.5"/><path d="M679.25 204L633.25 341.5"/><path d="M756.5 256L683.5 341.5"/><path d="M756.5 256L777.75 289.5"/>
<path d="M783 308L734.75 341.5"/><path d="M783 308L779.75 341.5"/><path d="M784.5 360L525.5 393.5"/>
<path d="M69 155.5L107.25 185.5"/><path d="M104.3 155.5L102.75 185.5"/><path d="M54.5 155.5L64.5 237.5"/><path d="M71.5 150.6L661.5 393.5"/>
<path d="M107.25 204L70.25 237.5"/><path d="M107.25 204L147.25 289.5"/><path d="M107.25 204L120.5 341.5"/><path d="M107.25 204L179 393.5"/>
<path d="M70.25 256L142.25 289.5"/><path d="M70.25 256L732.25 393.5"/><path d="M147.25 308L115.75 341.5"/><path d="M147.25 308L803.25 393.5"/>
<path d="M120.5 360L172.75 393.5"/><path d="M120.5 360L874.25 393.5"/><path d="M179 412L857.75 445.5"/>
<path d="M1005.6 155.5L986.25 237.5"/><path d="M1147.75 204L991.75 237.5"/><path d="M1026.5 155.5L1144.75 237.5"/><path d="M1147.75 204L1149.75 237.5"/>
<path d="M1021.1 155.5L1156.25 289.5"/><path d="M1026.8 155.5L1223.25 289.5"/><path d="M1229.25 256L1162 289.5"/><path d="M1229.25 256L1229.25 289.5"/>
<path d="M1088.7 103.5L1090.75 133.5"/><path d="M1141.6 103.5L1140 133.5"/><path d="M1097.75 152L1133.75 185.5"/><path d="M1151 152L1140.75 185.5"/>
<path d="M1207 155.5L1208.75 185.5"/><path d="M1257.5 155.5L1255.75 185.5"/><path d="M1215.5 204L1214.75 237.5"/><path d="M1267.25 204L1220.25 237.5"/>
<path d="M393.5 204L192 237.5"/><path d="M393.5 204L292.5 237.5"/><path d="M393.5 204L393.5 237.5"/><path d="M544.25 204L493 237.5"/><path d="M544.25 204L594.25 237.5"/>
<path d="M991.75 256L851.75 289.5"/><path d="M991.75 256L951.75 289.5"/><path d="M991.75 256L1053.25 289.5"/><path d="M1149.75 256L1298 289.5"/><path d="M1149.75 256L1450.75 289.5"/>
<path d="M1162 308L1027.5 341.5"/><path d="M1162 308L1129 341.5"/><path d="M1162 308L991.5 393.5"/><path d="M1229.25 308L1229.25 341.5"/><path d="M1229.25 308L1329 341.5"/>
<path d="M230 256L374.75 341.5"/><path d="M356.5 256L370.25 289.5"/><path d="M457 256L464.75 289.5"/><path d="M527.5 256L552.25 289.5"/><path d="M627.5 256L627.25 289.5"/>
<path d="M885 308L846.75 341.5"/><path d="M986.5 308L921.75 341.5"/><path d="M1083.5 308L938 393.5"/><path d="M1361 308L1450.25 341.5"/><path d="M1514 308L1523 341.5"/>
<path d="M1092.5 360L1107 393.5"/><path d="M1163 360L1176.75 393.5"/><path d="M1263 360L1262.25 393.5"/><path d="M1363 360L1355 393.5"/><path d="M1026 412L1041.75 445.5"/>
<path d="M1611 207.5L1643.25 237.5"/><path d="M1649.3 207.5L1649.75 237.5"/><path d="M1598.8 207.5L1607 289.5"/><path d="M1578.5 205L1121.75 445.5"/>
<path d="M1649.75 256L1612.75 289.5"/><path d="M1649.75 256L1639.5 341.5"/><path d="M1649.75 256L1666.25 393.5"/><path d="M1649.75 256L1672 445.5"/>
<path d="M1612.75 308L1632.75 341.5"/><path d="M1612.75 308L1357.25 445.5"/><path d="M1639.5 360L1660.75 393.5"/><path d="M1639.5 360L1192.25 445.5"/>
<path d="M1666.25 412L1666 445.5"/><path d="M1666.25 412L1277.75 445.5"/><path d="M1672 464L1058 497.5"/>
<path d="M605.5 405.5L968.75 445.5"/><path d="M980.5 464L1161.25 497.5"/><path d="M800.5 459.2L963.75 497.5"/><path d="M902.5 512.4L1070.25 549.5"/><path d="M989 516L1074.75 549.5"/>
<path d="M1074.75 568L1013.5 601.5"/><path d="M1074.75 568L1099 601.5"/><path d="M1074.75 568L1182.75 601.5"/><path d="M1074.75 568L1331.75 601.5"/><path d="M1074.75 568L1415.75 601.5"/>
<path d="M1201.5 563.6L1020.75 601.5"/><path d="M1201.5 567.2L1104.75 601.5"/><path d="M1214.6 571.5L1188.25 601.5"/><path d="M1250.5 568L1337.75 601.5"/><path d="M1250.5 563.9L1421.75 601.5"/>
<path d="M1210.5 619.2L1113.5 653.5"/><path d="M1215.7 622.5L1164 653.5"/><path d="M1230 622.5L1214 653.5"/><path d="M1261.1 622.5L1322.25 653.5"/><path d="M1262.5 618.3L1373 653.5"/>
<path d="M1239.5 668.7L1118.5 705.5"/><path d="M1239.5 672.4L1169.25 705.5"/><path d="M1249.6 674.5L1220.25 705.5"/><path d="M1264 674.5L1270 705.5"/><path d="M1278.5 674.5L1320.75 705.5"/>
<path d="M1080.5 774L993.75 810.5"/><path d="M1086.4 778.5L1052.75 810.5"/><path d="M1110.2 778.5L1137.75 810.5"/><path d="M1118.5 774.7L1196.75 810.5"/><path d="M1118.5 771.4L1255.75 810.5"/>
<path d="M476.5 665.8L764.3 701"/><path d="M552.5 666.7L778.7 700.3"/><path d="M628.5 668.1L798 700.3"/><path d="M698.5 669.4L816.7 700.3"/>
<path d="M770.5 671.8L873.75 705.5"/><path d="M849 674.5L918.75 705.5"/><path d="M904.7 674.5L918.75 705.5"/><path d="M906.3 674.5L924.25 705.5"/>
<path d="M965.8 674.5L948 705.5"/><path d="M1019.3 674.5L954.25 705.5"/>
</g>
<g class="ek">
<path d="M464.75 308L577.75 341.5"/><path d="M627.25 308L626.75 341.5"/><path d="M370.25 308L678.25 341.5"/><path d="M552.25 308L728.75 341.5"/><path d="M374.75 360L520.25 393.5"/>
<path d="M582.75 360L667.75 393.5"/><path d="M633.25 360L738 393.5"/><path d="M683.5 360L808.25 393.5"/><path d="M734.75 360L879.25 393.5"/><path d="M525.5 412L863 445.5"/>
<path d="M857.25 360L654.75 393.5"/><path d="M1534 360L726 393.5"/><path d="M931.25 360L797 393.5"/><path d="M1460.5 360L867.75 393.5"/><path d="M948.75 412L850.25 445.5"/>
<path d="M667.75 412L1127.25 445.5"/><path d="M738 412L1362.25 445.5"/><path d="M808.25 412L1198.25 445.5"/><path d="M879.25 412L1283.5 445.5"/><path d="M863 464L1063 497.5"/>
<path d="M1118 412L1116.75 445.5"/><path d="M1187 412L1187.25 445.5"/><path d="M1273 412L1271.75 445.5"/><path d="M1365.75 412L1351.75 445.5"/><path d="M1051.5 464L1051.5 497.5"/>
<path d="M911.5 464L1166.25 497.5"/>
<path d="M1063 516L1020.75 549.5"/><path d="M1166.25 516L1025.25 549.5"/><path d="M1127.25 464L1121.75 549.5"/><path d="M1166.25 516L1126.25 549.5"/><path d="M1166.25 516L1170.75 549.5"/>
<path d="M1198.25 464L1177 549.5"/><path d="M1283.5 464L1283.25 549.5"/><path d="M1166.25 516L1288.75 549.5"/><path d="M1166.25 516L1335.25 549.5"/><path d="M1362.25 464L1340.5 549.5"/>
<path d="M1025.25 568L1007.75 601.5"/><path d="M1126.25 568L1093.75 601.5"/><path d="M1177 568L1177.75 601.5"/><path d="M1340.5 568L1326.25 601.5"/><path d="M1288.75 568L1410.75 601.5"/>
<path d="M1020.75 620L1107.75 653.5"/><path d="M1104.75 620L1158.75 653.5"/><path d="M1188.25 620L1208.5 653.5"/><path d="M1337.75 620L1316.5 653.5"/><path d="M1421.75 620L1367 653.5"/>
<path d="M1113.5 672L1113.25 705.5"/><path d="M1164 672L1164 705.5"/><path d="M1214 672L1214 705.5"/><path d="M1322.25 672L1264.5 705.5"/><path d="M1373 672L1315 705.5"/>
<path d="M1118.5 724L1001.5 757.5"/><path d="M1169.25 724L1055.5 757.5"/><path d="M1220.25 724L1156 757.5"/><path d="M1270 724L1206 757.5"/><path d="M1320.75 724L1261 757.5"/>
<path d="M1001.25 776L998.75 810.5"/><path d="M1001.25 776L1004 810.5"/><path d="M1056 776L1057.75 810.5"/><path d="M1056 776L1063 810.5"/>
<path d="M1156.5 776L1142.75 810.5"/><path d="M1156.5 776L1148 810.5"/><path d="M1206.75 776L1201.75 810.5"/><path d="M1206.75 776L1206.75 810.5"/>
<path d="M1262.75 776L1260.75 810.5"/><path d="M1262.75 776L1266.25 810.5"/>
</g>
<g class="eg">
<path d="M961.5 724L999.5 757.5"/><path d="M961.5 724L1053.5 757.5"/><path d="M961.5 724L1154.5 757.5"/><path d="M961.5 724L1205 757.5"/><path d="M961.5 724L1261.5 757.5"/>
</g>
</g>
</svg>
